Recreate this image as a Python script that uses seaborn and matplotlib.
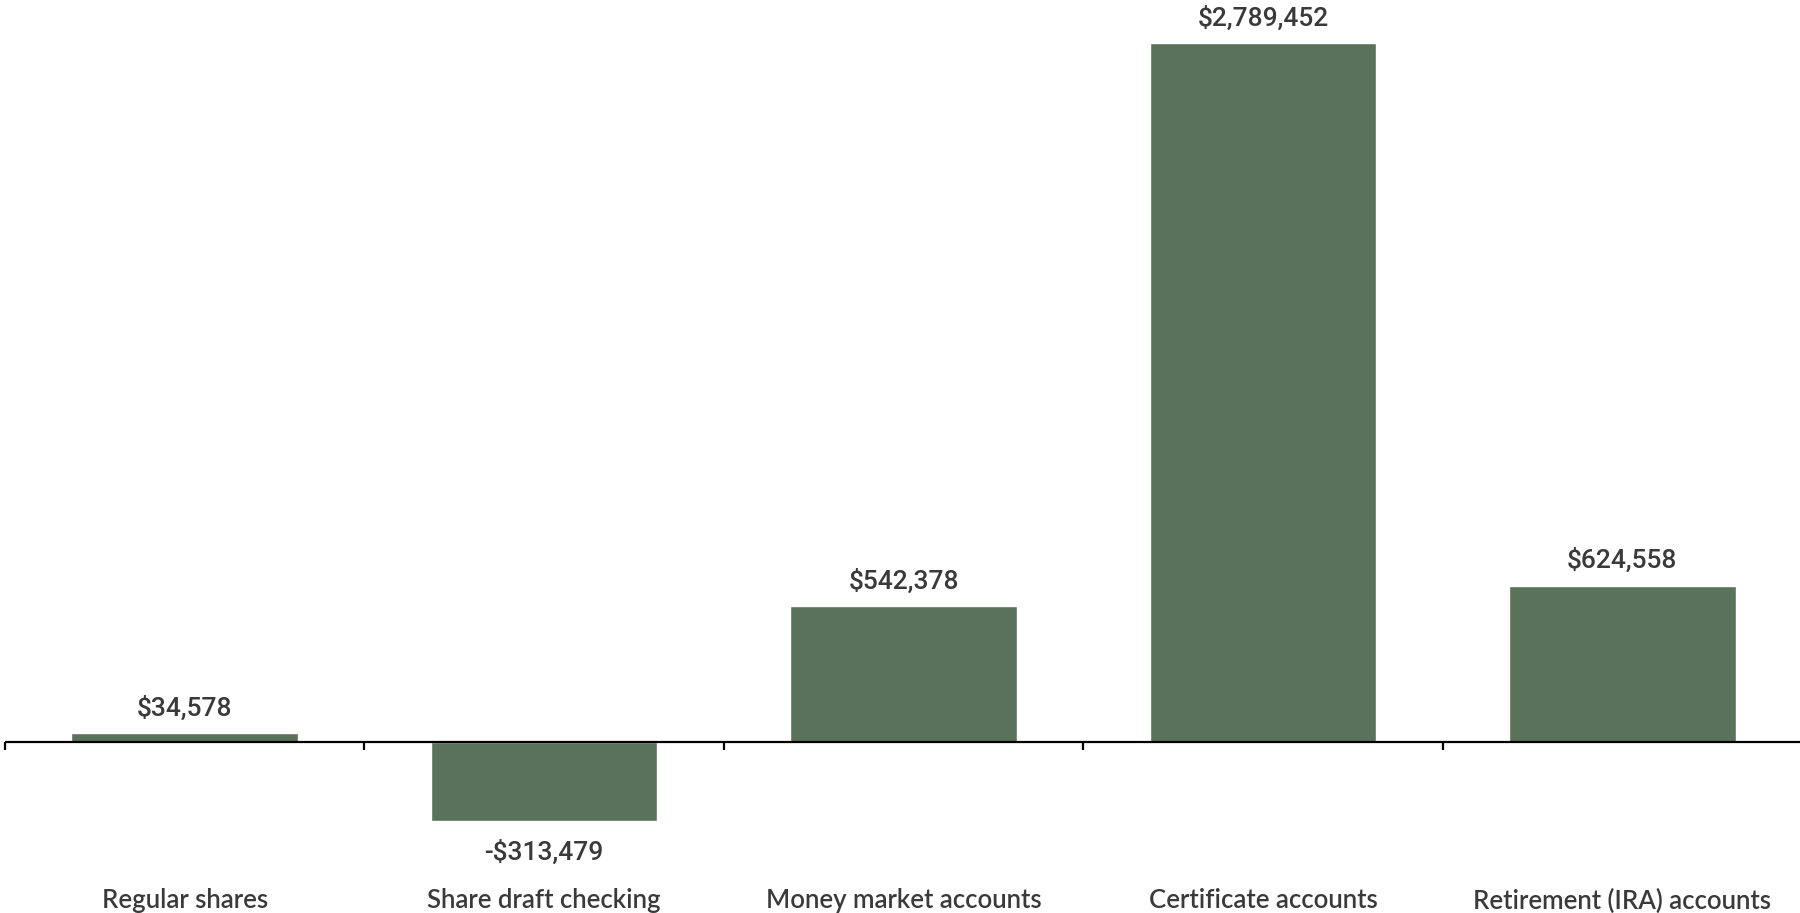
import matplotlib
matplotlib.use("Agg")
import matplotlib.pyplot as plt
import seaborn as sns
import pandas as pd

# Change in balances by deposit account type
categories = ["Regular shares", "Share draft checking", "Money market accounts",
              "Certificate accounts", "Retirement (IRA) accounts"]
values = [34578, -313479, 542378, 2789452, 624558]
value_labels = ["$34,578", "-$313,479", "$542,378", "$2,789,452", "$624,558"]

BAR_COLOR = "#5a7259"
TEXT_COLOR = "#3a3a3a"

sns.set_theme(style="white")
plt.rcParams["font.family"] = ["Lato", "DejaVu Sans"]

W, H = 1800, 913
fig = plt.figure(figsize=(W / 100, H / 100), dpi=100)
# axes spans from the top of the canvas down to a little below the negative bar
ax = fig.add_axes([5 / W, (H - 830) / H, 1797 / W, 830 / H])

df = pd.DataFrame({"category": categories, "value": values})
sns.barplot(data=df, x="category", y="value", color=BAR_COLOR, saturation=1,
            width=0.63, ax=ax, order=categories)

ax.set_ylim(-351000, 2961000)
ax.set_xlim(-0.5, 4.5)

for s in ax.spines.values():
    s.set_visible(False)
ax.axhline(0, color="black", lw=1.6, zorder=3)

# category boundary ticks hanging from the zero line
for b in [-0.5, 0.5, 1.5, 2.5, 3.5]:
    ax.plot([b, b], [0, -32000], color="black", lw=1.6, solid_capstyle="butt",
            zorder=3, clip_on=False)

ax.set_yticks([])
ax.set_ylabel("")
ax.set_xlabel("")
ax.set_xticks(range(len(categories)))
ax.set_xticklabels(categories, fontsize=18.5, color=TEXT_COLOR, fontweight="semibold")
ax.tick_params(axis="x", length=0, pad=42)

for i, (v, lab) in enumerate(zip(values, value_labels)):
    off = 18 if v >= 0 else -23
    ax.annotate(lab, xy=(i, v), xytext=(0, off), textcoords="offset points",
                ha="center", va="center", fontsize=19, color=TEXT_COLOR,
                family=["Roboto", "DejaVu Sans"], fontweight=500)

fig.savefig("out.png", dpi=100, facecolor="white")
